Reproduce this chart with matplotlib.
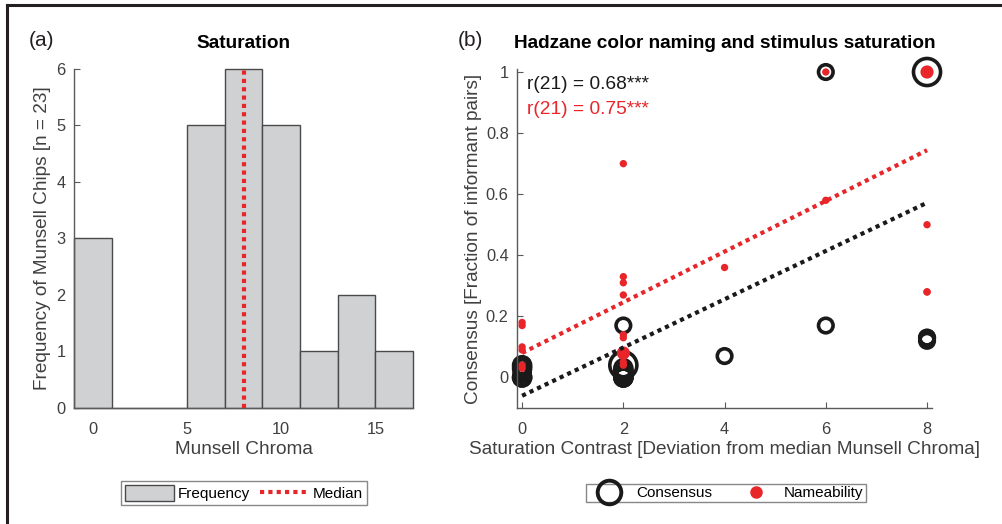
import matplotlib
matplotlib.use('Agg')
import matplotlib.pyplot as plt
import numpy as np
from matplotlib.lines import Line2D
from matplotlib.patches import Patch
from matplotlib.ticker import FuncFormatter

plt.rcParams['font.family'] = ['Liberation Sans', 'DejaVu Sans']

# (a) histogram of Munsell chroma
bin_centers = [0, 2, 4, 6, 8, 10, 12, 14, 16]
counts = [3, 0, 0, 5, 6, 5, 1, 2, 1]
median_chroma = 8

# (b) saturation contrast vs consensus / nameability
sat_x = [0, 0, 0, 0, 0, 0,
         2, 2, 2, 2, 2, 2, 2, 2, 2, 2,
         4, 6, 6, 8, 8, 8, 8]
consensus = [0.04, 0.03, 0.02, 0.01, 0.0, 0.0,
             0.17, 0.04, 0.03, 0.02, 0.01, 0.0, 0.0, 0.0, 0.01, 0.02,
             0.07, 1.0, 0.17, 1.0, 0.13, 0.12, 0.13]
cons_size = [150, 150, 130, 130, 150, 150,
             110, 380, 150, 150, 150, 150, 150, 150, 150, 150,
             110, 110, 110, 380, 110, 110, 110]
nameability = [0.18, 0.17, 0.10, 0.09, 0.04, 0.03,
               0.70, 0.33, 0.31, 0.27, 0.14, 0.13, 0.08, 0.07, 0.05, 0.04,
               0.36, 1.0, 0.58, 1.0, 0.50, 0.28, 0.28]
name_size = [28, 28, 28, 28, 28, 28,
             28, 28, 28, 28, 28, 28, 90, 40, 28, 28,
             28, 28, 28, 90, 28, 28, 28]
cons_fit = [0.079, -0.06]   # slope, intercept
name_fit = [0.083, 0.08]
r_cons = '0.68'
r_name = '0.75'

red = '#e8262a'
gray_txt = '#404040'
axis_col = '#5a5a5a'


def style_axes(ax):
    for s in ['top', 'right']:
        ax.spines[s].set_visible(False)
    for s in ['left', 'bottom']:
        ax.spines[s].set_color(axis_col)
        ax.spines[s].set_linewidth(1.0)
    ax.tick_params(direction='in', length=4, color=axis_col,
                   labelcolor=gray_txt, labelsize=11.8)
    ax.tick_params(axis='x', pad=10)
    ax.tick_params(axis='y', pad=6)


fig = plt.figure(figsize=(10.03, 5.24), dpi=100)

# ---- panel (a)
ax1 = fig.add_axes([0.0738, 0.2214, 0.338, 0.647])
ax1.bar(bin_centers, counts, width=2, color='#d0d1d3', edgecolor='#4a4a4a',
        linewidth=1.0, zorder=2, clip_on=False)
ax1.plot([median_chroma, median_chroma], [0, max(counts)], color=red,
         linestyle=(0, (1, 1)), linewidth=3, zorder=3)
ax1.set_xlim(-1, 17)
ax1.set_ylim(0, 6)
ax1.set_xticks([0, 5, 10, 15])
ax1.set_yticks(range(7))
style_axes(ax1)
ax1.set_xlabel('Munsell Chroma', fontsize=13.7, color=gray_txt, labelpad=3)
ax1.set_ylabel('Frequency of Munsell Chips [n = 23]', fontsize=13.7,
               color=gray_txt, labelpad=4)
ax1.set_title('Saturation', fontsize=13.7, fontweight='bold', pad=15)
fig.text(0.029, 0.922, '(a)', fontsize=15, color='#231f20', va='center')

h1 = [Patch(facecolor='#d0d1d3', edgecolor='#4a4a4a', linewidth=1.0),
      Line2D([], [], color=red, linestyle=(0, (1, 1)), linewidth=3)]
leg1 = fig.legend(h1, ['Frequency', 'Median'], ncol=2, loc='center',
                  bbox_to_anchor=(244 / 1003, 1 - 493 / 524), fontsize=11,
                  frameon=True, fancybox=False, handlelength=3.2,
                  handleheight=1.2, columnspacing=0.7, handletextpad=0.25,
                  borderpad=0.25, borderaxespad=0)
leg1.get_frame().set_edgecolor('#6a6a6a')
leg1.get_frame().set_linewidth(1.0)

# ---- panel (b)
ax2 = fig.add_axes([0.5155, 0.2214, 0.4138, 0.647])
ax2.scatter(sat_x, consensus, s=cons_size, facecolors='none',
            edgecolors='#1a1a1a', linewidths=2.6, zorder=2, clip_on=False)
ax2.scatter(sat_x, nameability, s=name_size, color=red, linewidths=0,
            zorder=3, clip_on=False)
xf = np.array([0, 8])
ax2.plot(xf, np.polyval(cons_fit, xf), color='#1a1a1a',
         linestyle=(0, (1, 1)), linewidth=3, zorder=4)
ax2.plot(xf, np.polyval(name_fit, xf), color=red,
         linestyle=(0, (1, 1)), linewidth=3, zorder=4)
ax2.set_xlim(-0.1, 8.1)
ax2.set_ylim(-0.1, 1.01)
ax2.set_xticks([0, 2, 4, 6, 8])
ax2.set_yticks([0, 0.2, 0.4, 0.6, 0.8, 1])
ax2.yaxis.set_major_formatter(FuncFormatter(lambda v, p: '%g' % v))
style_axes(ax2)
ax2.set_xlabel('Saturation Contrast [Deviation from median Munsell Chroma]',
               fontsize=13.7, color=gray_txt, labelpad=3)
ax2.set_ylabel('Consensus [Fraction of informant pairs]', fontsize=13.7,
               color=gray_txt, labelpad=3)
ax2.set_title('Hadzane color naming and stimulus saturation', fontsize=13.7,
              fontweight='bold', pad=15)
ax2.text(0.025, 0.955, 'r(21) = %s***' % r_cons, transform=ax2.transAxes,
         fontsize=13.8, color='#1a1a1a', va='center')
ax2.text(0.025, 0.88, 'r(21) = %s***' % r_name, transform=ax2.transAxes,
         fontsize=13.8, color=red, va='center')
fig.text(0.456, 0.922, '(b)', fontsize=15, color='#231f20', va='center')

h2 = [Line2D([], [], marker='o', markersize=17, markerfacecolor='none',
             markeredgecolor='#1a1a1a', markeredgewidth=2.8, linestyle='none'),
      Line2D([], [], marker='o', markersize=8, color=red, linestyle='none')]
leg2 = fig.legend(h2, ['Consensus', 'Nameability'], ncol=2, loc='center',
                  bbox_to_anchor=(726 / 1003, 1 - 493 / 524), fontsize=11,
                  frameon=True, fancybox=False, handlelength=2.6,
                  columnspacing=1.6, handletextpad=0.5,
                  borderpad=0.15, borderaxespad=0)
leg2.get_frame().set_edgecolor('#6a6a6a')
leg2.get_frame().set_linewidth(1.0)

# frame lines at the left and top of the figure
fig.add_artist(Line2D([7 / 1003, 7 / 1003], [0, 1 - 5 / 524],
                      transform=fig.transFigure, color='#231f20', linewidth=2.2))
fig.add_artist(Line2D([7 / 1003, 1], [1 - 5 / 524, 1 - 5 / 524],
                      transform=fig.transFigure, color='#231f20', linewidth=2.2))

fig.savefig('out.png', dpi=100)
